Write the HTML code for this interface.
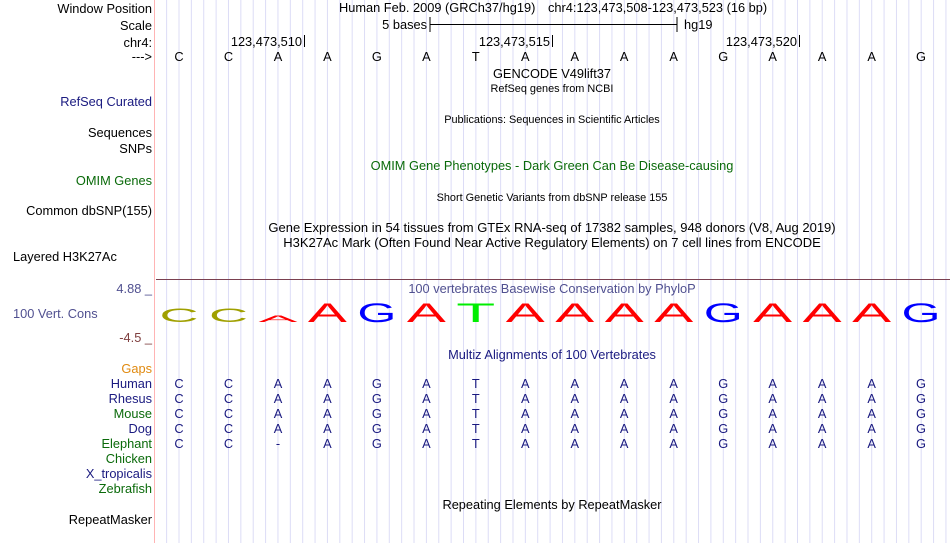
<!DOCTYPE html>
<html><head><meta charset="utf-8"><style>
html,body{margin:0;padding:0;background:#fff;width:950px;height:543px;overflow:hidden}
svg text{font-family:"Liberation Sans",sans-serif;font-size:12.8px}
.l{text-anchor:end}
.c{text-anchor:middle}
svg text.s{font-size:10.9px}
.nv{fill:#1a1a80}
.gr{fill:#0a6a0a}
</style></head><body>
<svg width="950" height="543" xmlns="http://www.w3.org/2000/svg">
<defs>
<pattern id="g" patternUnits="userSpaceOnUse" x="178.5" y="0" width="12.37" height="543">
<rect x="0" y="0" width="1" height="543" fill="#dcdcf6"/>
</pattern>
</defs>
<rect x="156" y="0" width="794" height="543" fill="url(#g)"/>
<rect x="154" y="0" width="1" height="543" fill="#ffb4b4"/>

<text class="l" x="152" y="13">Window Position</text>
<text class="l" x="152" y="30">Scale</text>
<text class="l" x="152" y="47">chr4:</text>
<text class="l" x="152" y="61">---&gt;</text>
<text class="l nv" x="152" y="106">RefSeq Curated</text>
<text class="l" x="152" y="137">Sequences</text>
<text class="l" x="152" y="153">SNPs</text>
<text class="l gr" x="152" y="185">OMIM Genes</text>
<text class="l" x="152" y="215">Common dbSNP(155)</text>
<text x="13" y="261">Layered H3K27Ac</text>
<text class="l" x="152" y="293" fill="#505090">4.88 _</text>
<text x="13" y="318" fill="#505090">100 Vert. Cons</text>
<text class="l" x="152" y="342" fill="#804040">-4.5 _</text>
<text class="l" x="152" y="373" fill="#e08a10">Gaps</text>
<text class="l nv" x="152" y="388">Human</text>
<text class="l nv" x="152" y="403">Rhesus</text>
<text class="l gr" x="152" y="418">Mouse</text>
<text class="l nv" x="152" y="433">Dog</text>
<text class="l gr" x="152" y="448">Elephant</text>
<text class="l gr" x="152" y="463">Chicken</text>
<text class="l nv" x="152" y="478">X_tropicalis</text>
<text class="l gr" x="152" y="493">Zebrafish</text>
<text class="l" x="152" y="524">RepeatMasker</text>

<text x="339" y="12">Human Feb. 2009 (GRCh37/hg19)</text>
<text x="548" y="12">chr4:123,473,508-123,473,523 (16 bp)</text>
<text class="l" x="427" y="29">5 bases</text>
<rect x="429.5" y="17" width="1" height="15" fill="#000"/>
<rect x="430" y="24" width="247" height="1" fill="#000"/>
<rect x="676.5" y="17" width="1" height="15" fill="#000"/>
<text x="684" y="29">hg19</text>
<text class="l" x="302" y="46">123,473,510</text><rect x="304" y="35" width="1" height="12" fill="#000"/>
<text class="l" x="550" y="46">123,473,515</text><rect x="552" y="35" width="1" height="12" fill="#000"/>
<text class="l" x="797" y="46">123,473,520</text><rect x="799" y="35" width="1" height="12" fill="#000"/>
<text text-anchor="middle" x="0" y="61"><tspan x="179">C</tspan><tspan x="228.5">C</tspan><tspan x="278">A</tspan><tspan x="327.4">A</tspan><tspan x="376.9">G</tspan><tspan x="426.4">A</tspan><tspan x="475.8">T</tspan><tspan x="525.3">A</tspan><tspan x="574.8">A</tspan><tspan x="624.2">A</tspan><tspan x="673.7">A</tspan><tspan x="723.2">G</tspan><tspan x="772.6">A</tspan><tspan x="822.1">A</tspan><tspan x="871.6">A</tspan><tspan x="921">G</tspan></text>
<text class="c" x="552" y="78">GENCODE V49lift37</text>
<text class="c s" x="552" y="92">RefSeq genes from NCBI</text>
<text class="c s" x="552" y="123">Publications: Sequences in Scientific Articles</text>
<text class="c gr" x="552" y="170">OMIM Gene Phenotypes - Dark Green Can Be Disease-causing</text>
<text class="c s" x="552" y="201">Short Genetic Variants from dbSNP release 155</text>
<text class="c" x="552" y="232" style="font-size:13px">Gene Expression in 54 tissues from GTEx RNA-seq of 17382 samples, 948 donors (V8, Aug 2019)</text>
<text class="c" x="552" y="247" style="font-size:13px">H3K27Ac Mark (Often Found Near Active Regulatory Elements) on 7 cell lines from ENCODE</text>
<rect x="156" y="279" width="794" height="1" fill="#7a4050"/>
<text class="c" x="552" y="293" fill="#505090">100 vertebrates Basewise Conservation by PhyloP</text>

<g text-anchor="middle">
<text transform="translate(179,322) scale(1,0.74)" textLength="39" lengthAdjust="spacingAndGlyphs" fill="#a0a000" style="font-size:26.5px">C</text>
<text transform="translate(228.5,322) scale(1,0.74)" textLength="39" lengthAdjust="spacingAndGlyphs" fill="#a0a000" style="font-size:26.5px">C</text>
<text transform="translate(278,322) scale(1,0.33)" textLength="39" lengthAdjust="spacingAndGlyphs" fill="#ff0000" style="font-size:26.5px">A</text>
<text transform="translate(327.4,322)" textLength="39" lengthAdjust="spacingAndGlyphs" fill="#ff0000" style="font-size:26.5px">A</text>
<text transform="translate(376.9,322)" textLength="39" lengthAdjust="spacingAndGlyphs" fill="#0000ff" style="font-size:26.5px">G</text>
<text transform="translate(426.4,322)" textLength="39" lengthAdjust="spacingAndGlyphs" fill="#ff0000" style="font-size:26.5px">A</text>
<text transform="translate(475.8,322)" textLength="39" lengthAdjust="spacingAndGlyphs" fill="#00ee00" style="font-size:26.5px">T</text>
<text transform="translate(525.3,322)" textLength="39" lengthAdjust="spacingAndGlyphs" fill="#ff0000" style="font-size:26.5px">A</text>
<text transform="translate(574.8,322)" textLength="39" lengthAdjust="spacingAndGlyphs" fill="#ff0000" style="font-size:26.5px">A</text>
<text transform="translate(624.2,322)" textLength="39" lengthAdjust="spacingAndGlyphs" fill="#ff0000" style="font-size:26.5px">A</text>
<text transform="translate(673.7,322)" textLength="39" lengthAdjust="spacingAndGlyphs" fill="#ff0000" style="font-size:26.5px">A</text>
<text transform="translate(723.2,322)" textLength="39" lengthAdjust="spacingAndGlyphs" fill="#0000ff" style="font-size:26.5px">G</text>
<text transform="translate(772.6,322)" textLength="39" lengthAdjust="spacingAndGlyphs" fill="#ff0000" style="font-size:26.5px">A</text>
<text transform="translate(822.1,322)" textLength="39" lengthAdjust="spacingAndGlyphs" fill="#ff0000" style="font-size:26.5px">A</text>
<text transform="translate(871.6,322)" textLength="39" lengthAdjust="spacingAndGlyphs" fill="#ff0000" style="font-size:26.5px">A</text>
<text transform="translate(921,322)" textLength="39" lengthAdjust="spacingAndGlyphs" fill="#0000ff" style="font-size:26.5px">G</text>
</g>

<text class="c nv" x="552" y="359">Multiz Alignments of 100 Vertebrates</text>
<g class="nv" text-anchor="middle">
<text x="0" y="388"><tspan x="179">C</tspan><tspan x="228.5">C</tspan><tspan x="278">A</tspan><tspan x="327.4">A</tspan><tspan x="376.9">G</tspan><tspan x="426.4">A</tspan><tspan x="475.8">T</tspan><tspan x="525.3">A</tspan><tspan x="574.8">A</tspan><tspan x="624.2">A</tspan><tspan x="673.7">A</tspan><tspan x="723.2">G</tspan><tspan x="772.6">A</tspan><tspan x="822.1">A</tspan><tspan x="871.6">A</tspan><tspan x="921">G</tspan></text>
<text x="0" y="403"><tspan x="179">C</tspan><tspan x="228.5">C</tspan><tspan x="278">A</tspan><tspan x="327.4">A</tspan><tspan x="376.9">G</tspan><tspan x="426.4">A</tspan><tspan x="475.8">T</tspan><tspan x="525.3">A</tspan><tspan x="574.8">A</tspan><tspan x="624.2">A</tspan><tspan x="673.7">A</tspan><tspan x="723.2">G</tspan><tspan x="772.6">A</tspan><tspan x="822.1">A</tspan><tspan x="871.6">A</tspan><tspan x="921">G</tspan></text>
<text x="0" y="418"><tspan x="179">C</tspan><tspan x="228.5">C</tspan><tspan x="278">A</tspan><tspan x="327.4">A</tspan><tspan x="376.9">G</tspan><tspan x="426.4">A</tspan><tspan x="475.8">T</tspan><tspan x="525.3">A</tspan><tspan x="574.8">A</tspan><tspan x="624.2">A</tspan><tspan x="673.7">A</tspan><tspan x="723.2">G</tspan><tspan x="772.6">A</tspan><tspan x="822.1">A</tspan><tspan x="871.6">A</tspan><tspan x="921">G</tspan></text>
<text x="0" y="433"><tspan x="179">C</tspan><tspan x="228.5">C</tspan><tspan x="278">A</tspan><tspan x="327.4">A</tspan><tspan x="376.9">G</tspan><tspan x="426.4">A</tspan><tspan x="475.8">T</tspan><tspan x="525.3">A</tspan><tspan x="574.8">A</tspan><tspan x="624.2">A</tspan><tspan x="673.7">A</tspan><tspan x="723.2">G</tspan><tspan x="772.6">A</tspan><tspan x="822.1">A</tspan><tspan x="871.6">A</tspan><tspan x="921">G</tspan></text>
<text x="0" y="448"><tspan x="179">C</tspan><tspan x="228.5">C</tspan><tspan x="278">-</tspan><tspan x="327.4">A</tspan><tspan x="376.9">G</tspan><tspan x="426.4">A</tspan><tspan x="475.8">T</tspan><tspan x="525.3">A</tspan><tspan x="574.8">A</tspan><tspan x="624.2">A</tspan><tspan x="673.7">A</tspan><tspan x="723.2">G</tspan><tspan x="772.6">A</tspan><tspan x="822.1">A</tspan><tspan x="871.6">A</tspan><tspan x="921">G</tspan></text>
</g>
<text class="c" x="552" y="509">Repeating Elements by RepeatMasker</text>
</svg>
</body></html>
